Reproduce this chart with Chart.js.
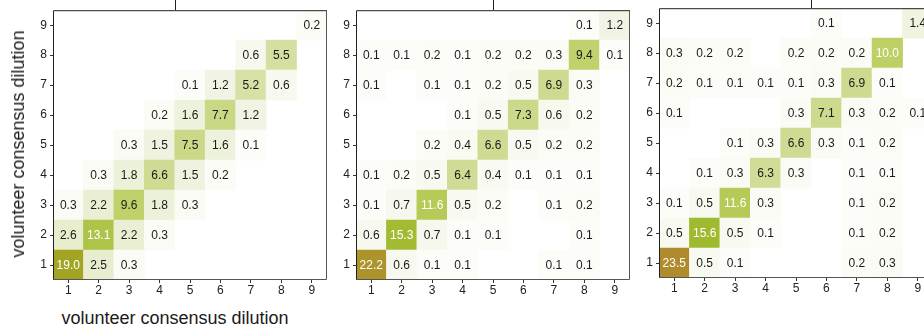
<!DOCTYPE html>
<html>
<head>
<meta charset="utf-8">
<script src="https://cdn.jsdelivr.net/npm/chart.js@4.4.0/dist/chart.umd.min.js"></script>
<style>
  html, body { margin: 0; padding: 0; background: #fff; }
  body { width: 924px; height: 331px; position: relative; overflow: hidden; font-family: "Liberation Sans", Arial, sans-serif; }
  canvas { position: absolute; }
  .axis-title { position: absolute; font-size: 18px; color: #1a1a1a; white-space: nowrap; line-height: 20px; }
</style>
</head>
<body>
<canvas id="panel1" width="330" height="300" style="left:0;top:0"></canvas>
<canvas id="panel2" width="330" height="300" style="left:303px;top:0"></canvas>
<canvas id="panel3" width="330" height="300" style="left:606px;top:-2px"></canvas>
<div class="axis-title" id="ytitle">volunteer consensus dilution</div>
<div class="axis-title" id="xtitle">volunteer consensus dilution</div>

<script>
// --- DATA ---
const dilutions = ['1', '2', '3', '4', '5', '6', '7', '8', '9'];

// each row = one y dilution (1 at bottom), each column = x dilution; null = empty cell
const panelA = [
    [19.0, 2.5, 0.3, null, null, null, null, null, null],
    [2.6, 13.1, 2.2, 0.3, null, null, null, null, null],
    [0.3, 2.2, 9.6, 1.8, 0.3, null, null, null, null],
    [null, 0.3, 1.8, 6.6, 1.5, 0.2, null, null, null],
    [null, null, 0.3, 1.5, 7.5, 1.6, 0.1, null, null],
    [null, null, null, 0.2, 1.6, 7.7, 1.2, null, null],
    [null, null, null, null, 0.1, 1.2, 5.2, 0.6, null],
    [null, null, null, null, null, null, 0.6, 5.5, null],
    [null, null, null, null, null, null, null, null, 0.2]
];

const panelB = [
    [22.2, 0.6, 0.1, 0.1, null, null, 0.1, 0.1, null],
    [0.6, 15.3, 0.7, 0.1, 0.1, null, null, 0.1, null],
    [0.1, 0.7, 11.6, 0.5, 0.2, null, 0.1, 0.2, null],
    [0.1, 0.2, 0.5, 6.4, 0.4, 0.1, 0.1, 0.1, null],
    [null, null, 0.2, 0.4, 6.6, 0.5, 0.2, 0.2, null],
    [null, null, null, 0.1, 0.5, 7.3, 0.6, 0.2, null],
    [0.1, null, 0.1, 0.1, 0.2, 0.5, 6.9, 0.3, null],
    [0.1, 0.1, 0.2, 0.1, 0.2, 0.2, 0.3, 9.4, 0.1],
    [null, null, null, null, null, null, null, 0.1, 1.2]
];

const panelC = [
    [23.5, 0.5, 0.1, null, null, null, 0.2, 0.3, null],
    [0.5, 15.6, 0.5, 0.1, null, null, 0.1, 0.2, null],
    [0.1, 0.5, 11.6, 0.3, null, null, 0.1, 0.2, null],
    [null, 0.1, 0.3, 6.3, 0.3, null, 0.1, 0.1, null],
    [null, null, 0.1, 0.3, 6.6, 0.3, 0.1, 0.2, null],
    [0.1, null, null, null, 0.3, 7.1, 0.3, 0.2, 0.1],
    [0.2, 0.1, 0.1, 0.1, 0.1, 0.3, 6.9, 0.1, null],
    [0.3, 0.2, 0.2, null, 0.2, 0.2, 0.2, 10.0, null],
    [null, null, null, null, null, 0.1, null, null, 1.4]
];

// --- COLOUR SCALE (value -> rgb) ---
const colorStops = [
    [0, [253, 253, 250]],
    [0.1, [252, 253, 248]],
    [1.5, [238, 242, 222]],
    [5, [216, 225, 168]],
    [7, [205, 218, 142]],
    [10, [189, 208, 101]],
    [13, [174, 196, 74]],
    [16, [158, 184, 44]],
    [19, [162, 164, 36]],
    [22, [171, 148, 41]],
    [24, [177, 136, 47]]
];

function cellColor(v) {
    for (let i = 1; i < colorStops.length; i++) {
        const [v1, c1] = colorStops[i];
        const [v0, c0] = colorStops[i - 1];
        if (v <= v1) {
            const t = (v - v0) / (v1 - v0);
            const c = c0.map((a, k) => Math.round(a + (c1[k] - a) * t));
            return `rgb(${c[0]},${c[1]},${c[2]})`;
        }
    }
    const last = colorStops[colorStops.length - 1][1];
    return `rgb(${last[0]},${last[1]},${last[2]})`;
}

const FONT = '"Liberation Sans", Arial, sans-serif';

// text inside cells
const cellLabels = {
    id: 'cellLabels',
    afterDatasetsDraw(chart) {
        const ctx = chart.ctx;
        ctx.save();
        ctx.font = `12px ${FONT}`;
        ctx.textAlign = 'center';
        ctx.textBaseline = 'middle';
        chart.data.datasets.forEach((ds, i) => {
            chart.getDatasetMeta(i).data.forEach((bar, j) => {
                const v = ds.values[j];
                if (v == null) return;
                ctx.fillStyle = v >= 10 ? '#ffffff' : '#1a1a1a';
                ctx.fillText(v.toFixed(1), bar.x, (bar.y + bar.base) / 2 + 0.5);
            });
        });
        ctx.restore();
    }
};

// panel frame + the little tick poking in from above
const panelFrame = {
    id: 'panelFrame',
    afterDraw(chart) {
        const { ctx, chartArea: a } = chart;
        ctx.save();
        ctx.lineWidth = 1;
        ctx.strokeStyle = '#222';
        ctx.beginPath();
        ctx.moveTo(a.left + 0.5, a.bottom);
        ctx.lineTo(a.left + 0.5, a.top + 0.5);
        ctx.lineTo(a.right, a.top + 0.5);
        ctx.stroke();
        ctx.strokeStyle = '#555';
        ctx.beginPath();
        ctx.moveTo(a.right - 0.5, a.top);
        ctx.lineTo(a.right - 0.5, a.bottom - 0.5);
        ctx.lineTo(a.left, a.bottom - 0.5);
        ctx.stroke();
        const mark = chart.options.plugins.panelFrame.topMark;
        const x = Math.round(chart.scales.x.getPixelForValue(mark)) + 0.5;
        ctx.strokeStyle = '#222';
        ctx.beginPath();
        ctx.moveTo(x, 0);
        ctx.lineTo(x, a.top);
        ctx.stroke();
        ctx.restore();
    }
};

function makePanel(id, matrix, topMark) {
    const datasets = matrix.map((row, r) => {
        const y = r + 1;
        return {
            data: row.map(v => (v == null ? null : [y - 0.5, y + 0.5])),
            values: row,
            backgroundColor: row.map(v => (v == null ? 'rgba(0,0,0,0)' : cellColor(v))),
            borderWidth: 0,
            categoryPercentage: 1,
            barPercentage: 1,
            grouped: false
        };
    });

    new Chart(document.getElementById(id), {
        type: 'bar',
        data: { labels: dilutions, datasets: datasets },
        options: {
            responsive: false,
            devicePixelRatio: 1,
            animation: false,
            layout: { padding: { top: 6, right: 3, left: 0, bottom: 0 } },
            plugins: {
                legend: { display: false },
                tooltip: { enabled: false },
                panelFrame: { topMark: topMark }
            },
            scales: {
                x: {
                    type: 'category',
                    offset: true,
                    grid: { display: true, drawOnChartArea: false, drawTicks: true, tickLength: 3, tickColor: '#333', offset: false },
                    border: { display: false },
                    ticks: { color: '#222', font: { size: 12, family: FONT }, padding: 0, maxRotation: 0 },
                    afterFit: s => { s.height = 20; }
                },
                y: {
                    type: 'linear',
                    min: 0.5,
                    max: 9.5,
                    grid: { display: true, drawOnChartArea: false, drawTicks: true, tickLength: 3, tickColor: '#333' },
                    border: { display: false },
                    ticks: { color: '#222', font: { size: 12, family: FONT }, padding: 3 },
                    afterBuildTicks: s => { s.ticks = dilutions.map(d => ({ value: Number(d) })); },
                    afterFit: s => { s.width = 53; }
                }
            }
        },
        plugins: [cellLabels, panelFrame]
    });
}

makePanel('panel1', panelA, 3.5);
makePanel('panel2', panelB, 4);
makePanel('panel3', panelC, 4.5);

// axis titles (only on the first panel)
const yt = document.getElementById('ytitle');
yt.style.left = '18px';
yt.style.top = '144px';
yt.style.transform = 'translate(-50%, -50%) rotate(-90deg)';
const xt = document.getElementById('xtitle');
xt.style.left = '175px';
xt.style.top = '318px';
xt.style.transform = 'translate(-50%, -50%)';
</script>
</body>
</html>
